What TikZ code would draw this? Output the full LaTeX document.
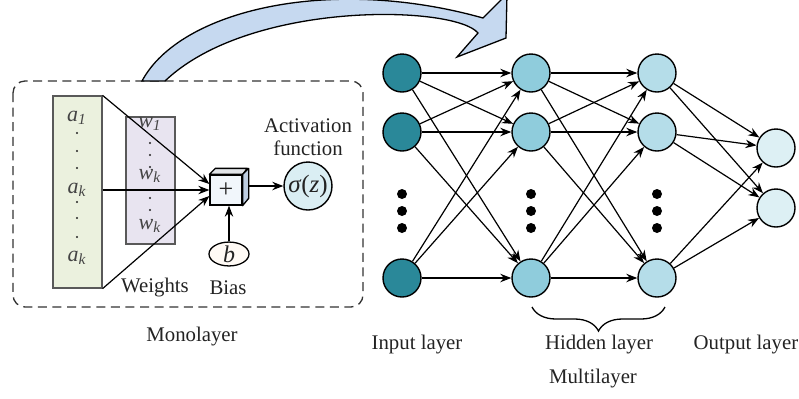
\documentclass[tikz,border=0pt]{standalone}
\usepackage{fontspec}
\setmainfont{Liberation Serif}
\usetikzlibrary{
  arrows.meta,
  positioning,
  shapes.geometric,
  calc,
  decorations.pathreplacing
}
\definecolor{inputcol}{RGB}{42,136,153}
\definecolor{hidonecol}{RGB}{143,204,220}
\definecolor{hidtwocol}{RGB}{181,221,233}
\definecolor{outcol}{RGB}{221,240,244}
\definecolor{sigmacol}{RGB}{218,238,243}
\definecolor{acolor}{RGB}{235,241,222}
\definecolor{wcolor}{RGB}{232,228,240}
\definecolor{bigarrow}{RGB}{198,217,240}
\definecolor{framegray}{RGB}{50,50,50}
\definecolor{cubetop}{RGB}{225,228,232}
\definecolor{cubeside}{RGB}{190,206,226}
\definecolor{cubefront}{RGB}{241,246,251}
\definecolor{textgray}{RGB}{35,35,35}
\tikzset{
  neuron/.style={circle, draw=black, line width=0.7pt, minimum size=19pt, inner sep=0pt},
  link/.style={-{Stealth[length=5.5pt,width=4.2pt]}, line width=0.6pt},
  bigdot/.style={circle, fill=black, minimum size=5pt, inner sep=0pt},
  smalldot/.style={circle, fill=textgray, minimum size=1.2pt, inner sep=0pt},
  lbl/.style={font=\fontsize{10.4}{11.6}\selectfont, text=textgray, inner sep=0pt},
  mathlbl/.style={font=\fontsize{11}{12}\selectfont\itshape, text=textgray!85, inner sep=0pt},
  column/.style={draw=gray!70!black, line width=0.6pt, inner sep=0pt}
}

\begin{document}
\begin{tikzpicture}[x=0.5pt, y=-0.5pt, >=Stealth]
  \useasboundingbox (0,0) rectangle (799,398);

  % -- Monolayer frame and curved arrow --
  \draw[framegray, line width=0.65pt, dash pattern=on 4.5pt off 2.8pt, rounded corners=6pt]
    (13,81) rectangle (363,307);
  \draw[fill=bigarrow, line width=0.65pt, line join=miter]
    (142,81) .. controls (180,10) and (330,-25) .. (483,18) -- (507,-6) -- (506,38)
    -- (457,57) -- (478,33) .. controls (455,5) and (250,0) .. (165,81) -- cycle;

  % -- inputs and weights --
  \node[column, fill=acolor, minimum width=24.5pt, minimum height=96pt] (acol) at (77.5,192) {};
  \node[column, fill=wcolor, minimum width=24.5pt, minimum height=63.5pt] (wcol) at (150.5,180.5) {};
  \node[mathlbl] (aone) at (77,118) {a\textsubscript{1}};
  \node[mathlbl] (akmid) at (77,190) {a\textsubscript{k}};
  \node[mathlbl] (aklow) at (77,258) {a\textsubscript{k}};
  \foreach \y in {133,151,168,202,218,237}
    \node[smalldot] (adot\y) at (77,\y) {};
  \node[mathlbl] (wone) at (150,124) {w\textsubscript{1}};
  \node[mathlbl] (wkmid) at (150,176) {w\textsubscript{k}};
  \node[mathlbl] (wklow) at (150,226) {w\textsubscript{k}};
  \foreach \y in {143,155,167,198,210}
    \node[smalldot] (wdot\y) at (150,\y) {};

  % -- summation cube --
  \node[draw, fill=cubefront, line width=0.65pt, minimum width=16pt, minimum height=15pt,
        inner sep=0pt, font=\fontsize{13}{13}\selectfont, text=textgray] (sum) at (226,190) {+};
  \draw[fill=cubetop, line width=0.65pt, line join=round]
    (sum.north west) -- ++(6,-6) -- ++(32,0) -- (sum.north east) -- cycle;
  \draw[fill=cubeside, line width=0.65pt, line join=round]
    (sum.north east) -- ++(6,-6) -- ++(0,30) -- (sum.south east) -- cycle;

  \draw[link] (acol.north east) -- ($(sum.west)+(0,-6)$);
  \draw[link] (acol.east |- sum.west) -- (sum.west);
  \draw[link] (acol.south east) -- ($(sum.west)+(0,6)$);

  % -- bias and activation --
  \node[ellipse, draw, fill=orange!4, line width=0.65pt, minimum width=20pt, minimum height=11pt,
        inner sep=0pt, font=\fontsize{12}{12}\selectfont\itshape, text=textgray] (bias) at (229,254) {b};
  \draw[link] (bias.north) -- (bias.north |- sum.south);
  \node[neuron, fill=sigmacol, minimum size=24pt, font=\fontsize{12.5}{12.5}\selectfont,
        text=textgray] (sigma) at (308,186) {\textit{σ}(\textit{z})};
  \draw[link] ($(sum.east)+(6,-4)$) -- (sigma.west);
  \node[lbl, align=center] (actlbl) at (308,137) {Activation\\function};

  \node[lbl] (wlbl) at (155,288) {Weights};
  \node[lbl] (blbl) at (228,288) {Bias};
  \node[lbl] (monolbl) at (192,337) {Monolayer};

  % -- Multilayer network --
  \foreach \n/\y in {1/73,2/132,3/278} {
    \node[neuron, fill=inputcol] (in\n) at (402,\y) {};
    \node[neuron, fill=hidonecol] (ha\n) at (531,\y) {};
    \node[neuron, fill=hidtwocol] (hb\n) at (657,\y) {};
  }
  \node[neuron, fill=outcol] (out1) at (776,148) {};
  \node[neuron, fill=outcol] (out2) at (776,208) {};
  \foreach \x in {402,531,657}
    \foreach \y in {194,211,228}
      \node[bigdot] (dot\x-\y) at (\x,\y) {};

  \foreach \i in {1,2,3}
    \foreach \j in {1,2,3} {
      \draw[link] (in\i) -- (ha\j);
      \draw[link] (ha\i) -- (hb\j);
    }
  \foreach \i in {1,2,3}
    \foreach \j in {1,2}
      \draw[link] (hb\i) -- (out\j);

  \coordinate (braceL) at (532,307);
  \coordinate (braceR) at (665,307);
  \draw[decorate, decoration={brace, mirror, amplitude=12pt}, line width=0.65pt]
    (braceL) -- (braceR);

  \node[lbl] (inlbl) at (417,345) {Input layer};
  \node[lbl] (hidlbl) at (599,345) {Hidden layer};
  \node[lbl] (outlbl) at (746,345) {Output layer};
  \node[lbl] (multilbl) at (593,379) {Multilayer};

\end{tikzpicture}
\end{document}
